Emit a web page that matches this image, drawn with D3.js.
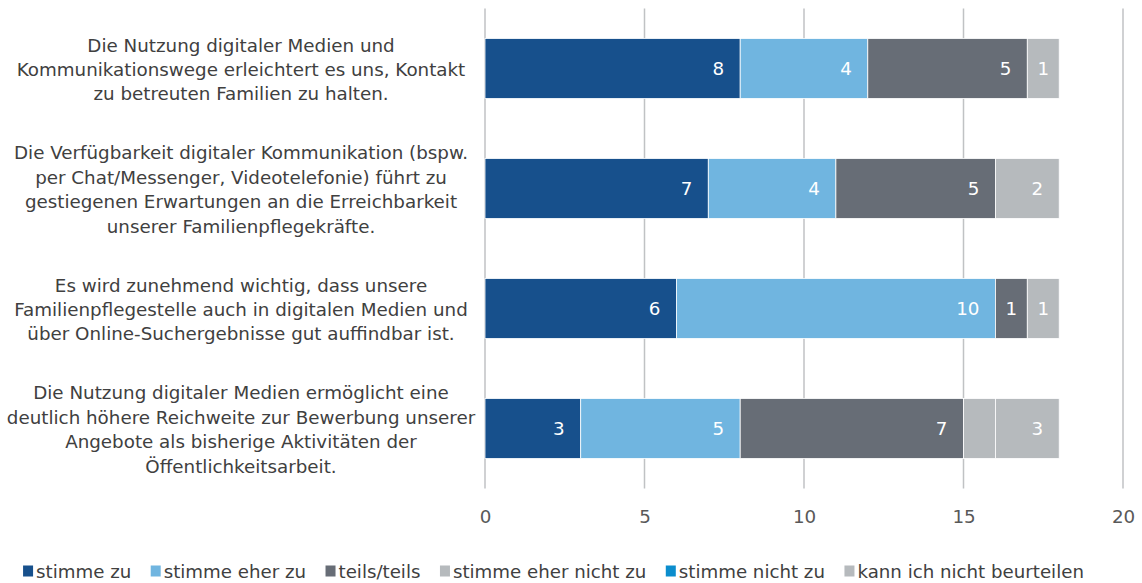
<!DOCTYPE html>
<html><head><meta charset="utf-8">
<script src="https://cdn.jsdelivr.net/npm/d3@7"></script>
<style>
html,body{margin:0;padding:0;background:#fff;}
svg{display:block;font-family:"DejaVu Sans",sans-serif;}
</style></head>
<body>
<svg id="c" width="1142" height="583"></svg>
<script>
// ---- data ----
const categories = [
  ["Die Nutzung digitaler Medien und","Kommunikationswege erleichtert es uns, Kontakt","zu betreuten Familien zu halten."],
  ["Die Verfügbarkeit digitaler Kommunikation (bspw.","per Chat/Messenger, Videotelefonie) führt zu","gestiegenen Erwartungen an die Erreichbarkeit","unserer Familienpflegekräfte."],
  ["Es wird zunehmend wichtig, dass unsere","Familienpflegestelle auch in digitalen Medien und","über Online-Suchergebnisse gut auffindbar ist."],
  ["Die Nutzung digitaler Medien ermöglicht eine","deutlich höhere Reichweite zur Bewerbung unserer","Angebote als bisherige Aktivitäten der","Öffentlichkeitsarbeit."]
];
const seriesNames = ["stimme zu","stimme eher zu","teils/teils","stimme eher nicht zu","stimme nicht zu","kann ich nicht beurteilen"];
const stimmeZu      = [8, 7, 6, 3];
const stimmeEherZu  = [4, 4, 10, 5];
const teilsTeils    = [5, 5, 1, 7];
const eherNichtZu   = [0, 0, 0, 1];
const nichtZu       = [0, 0, 0, 0];
const kannNicht     = [1, 2, 1, 2];
// data labels as printed in the source chart (null = no label shown)
const eherNichtZuLabels = [null, null, null, null];
const kannNichtLabels   = ["1", "2", "1", "3"];
const xTicks = [0, 5, 10, 15, 20];

const colors = ["#17508c","#70b5e0","#676d76","#b6babd","#0b8dcd","#b6babd"];
const seriesVals = [stimmeZu, stimmeEherZu, teilsTeils, eherNichtZu, nichtZu, kannNicht];
const seriesLabels = [
  stimmeZu.map(String), stimmeEherZu.map(String), teilsTeils.map(String),
  eherNichtZuLabels, nichtZu.map(String), kannNichtLabels
];

// ---- layout ----
const svg = d3.select("#c");
const FF = "DejaVu Sans, sans-serif";
const FONT = 18.3;
const LFONT = 18.2;
const x = d3.scaleLinear().domain([0, 20]).range([485, 1123]);
const y = d3.scaleBand().domain(d3.range(categories.length)).range([8.5, 488.5])
  .paddingInner(0.5).paddingOuter(0.25);

// gridlines
svg.append("g").selectAll("line").data(xTicks).join("line")
  .attr("x1", d => x(d)).attr("x2", d => x(d))
  .attr("y1", 8.5).attr("y2", 488.5)
  .attr("stroke", "#c0c2c4").attr("stroke-width", 1.5);

// x axis labels
const xAxis = d3.axisBottom(x).tickValues(xTicks).tickSize(0).tickPadding(0);
const gx = svg.append("g").attr("transform", "translate(0,523)").call(xAxis);
gx.select(".domain").remove();
gx.selectAll("text").attr("font-size", FONT).attr("fill", "#595959")
  .attr("font-family", FF).attr("dy", "0");

// stacked rows
const rows = categories.map((c, i) => {
  let acc = 0;
  return seriesVals.map((s, k) => {
    const v = s[i];
    const seg = {i, k, x0: acc, x1: acc + v, v, label: seriesLabels[k][i]};
    acc += v;
    return seg;
  });
});
const segs = rows.flat().filter(d => d.v > 0);

svg.append("g").selectAll("rect").data(segs).join("rect")
  .attr("x", d => x(d.x0)).attr("width", d => x(d.x1) - x(d.x0))
  .attr("y", d => y(d.i)).attr("height", y.bandwidth())
  .attr("fill", d => colors[d.k])
  .attr("stroke", "#ffffff").attr("stroke-width", 0.8);

// value labels
svg.append("g").selectAll("text").data(segs.filter(d => d.label != null)).join("text")
  .attr("x", d => {
    const w = x(d.x1) - x(d.x0);
    return w < 40 ? (x(d.x0) + x(d.x1)) / 2 : x(d.x1) - 16;
  })
  .attr("text-anchor", d => (x(d.x1) - x(d.x0)) < 40 ? "middle" : "end")
  .attr("y", d => y(d.i) + y.bandwidth() / 2)
  .attr("dy", "0.36em")
  .attr("font-size", FONT).attr("fill", "#ffffff").attr("font-family", FF)
  .text(d => d.label);

// category labels (multi-line, centered)
const LH = 24.4;
const catG = svg.append("g");
categories.forEach((lines, i) => {
  const cy = y(i) + y.bandwidth() / 2 + 1;
  const t = catG.append("text").attr("text-anchor", "middle")
    .attr("font-size", FONT).attr("fill", "#404040").attr("font-family", FF);
  lines.forEach((ln, j) => {
    t.append("tspan").attr("x", 241)
      .attr("y", cy + (j - (lines.length - 1) / 2) * LH)
      .attr("dy", "0.36em").text(ln);
  });
});

// legend
const lg = svg.append("g");
let lx = 0;
const items = [];
seriesNames.forEach((n, k) => {
  const g = lg.append("g");
  g.append("rect").attr("x", 0).attr("y", -5.5).attr("width", 10).attr("height", 11).attr("fill", colors[k]);
  const tx = g.append("text").attr("x", 13).attr("y", 0).attr("dy", "0.36em")
    .attr("font-size", LFONT).attr("fill", "#404040").attr("font-family", FF).text(n);
  const w = 13 + tx.node().getComputedTextLength();
  items.push({g, w});
});
const gap = 19.5;
const total = d3.sum(items, d => d.w) + gap * (items.length - 1);
lx = 553.5 - total / 2;
items.forEach(it => { it.g.attr("transform", `translate(${lx},571)`); lx += it.w + gap; });
</script>
</body></html>
